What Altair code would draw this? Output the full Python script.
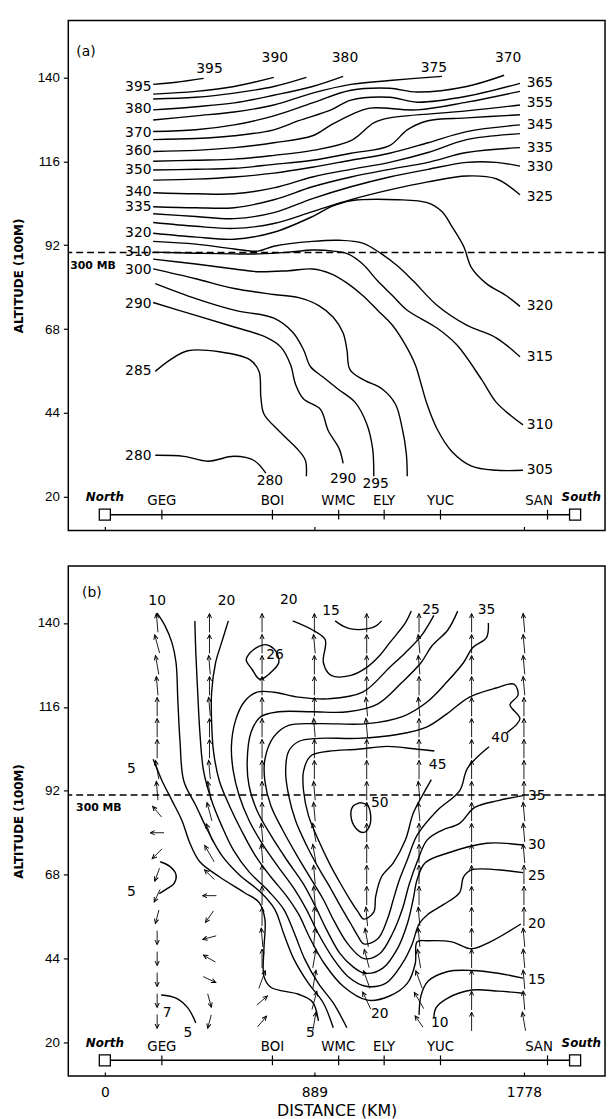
import math
import altair as alt
import pandas as pd

# ---------------- scales / layout ----------------
X_DOMAIN = [-155, 2122]
Y_DOMAIN = [10.4, 156.3]
PANEL_W, PANEL_H = 543, 516
X_TICKS = [0, 889, 1778]
Y_TICKS = [20, 44, 68, 92, 116, 140]
FONT = "DejaVu Sans"

# ---------------- stations ----------------
STATIONS = ["GEG", "BOI", "WMC", "ELY", "YUC", "SAN"]
STATION_KM = [242, 711, 992, 1185, 1424, 1878]
STATION_LABEL_KM = [242, 711, 990, 1185, 1424, 1842]
END_NAMES = ["North", "South"]
END_KM = [0, 1995]
END_LABEL_KM = [0, 2021]
STATION_LINE_ALT = 14.9
STATION_LABEL_ALT = 18.8
END_LABEL_ALT = 19.9

# 300 mb level
P300_ALT_A = 89.9
P300_ALT_B = 90.8

# ---------------- panel (a): isentropes (K) ----------------
A395 = [(205, 138.0), (302, 138.6), (419, 139.7)]
A390 = [(205, 135.2), (386, 136.0), (549, 137.4), (717, 140.0)]
A385 = [(205, 133.8), (386, 134.3), (549, 135.5), (717, 137.4), (855, 140.0)]
A380 = [(205, 130.7), (386, 131.6), (549, 132.7), (717, 134.9), (881, 137.4), (1011, 140.3)]
A375 = [(205, 127.8), (386, 129.0), (549, 130.1), (717, 132.1), (881, 135.5), (1044, 138.0), (1208, 139.1), (1430, 140.3)]
A370 = [(205, 124.5), (386, 125.0), (549, 126.4), (717, 129.0), (881, 132.7), (1044, 136.3), (1208, 136.9), (1325, 135.8), (1535, 137.4), (1694, 140.6)]
A365 = [(205, 122.2), (386, 122.5), (549, 123.3), (717, 125.0), (822, 127.6), (960, 130.7), (1044, 133.5), (1208, 134.3), (1325, 132.9), (1535, 134.6), (1761, 138.3)]
A360 = [(205, 118.8), (386, 119.1), (549, 119.9), (717, 121.3), (881, 123.3), (960, 126.4), (1044, 129.3), (1124, 131.2), (1325, 130.7), (1535, 132.9), (1761, 136.0)]
A355 = [(205, 116.0), (386, 116.3), (549, 116.6), (717, 117.7), (881, 119.1), (1044, 121.9), (1141, 127.0), (1208, 128.4), (1535, 130.4), (1761, 132.1)]
A350 = [(205, 113.5), (386, 113.7), (549, 114.0), (717, 115.1), (881, 116.3), (1044, 118.3), (1208, 120.5), (1283, 125.0), (1371, 127.6), (1535, 128.4), (1761, 129.3)]
A345 = [(205, 110.6), (386, 110.9), (549, 111.5), (717, 112.6), (881, 114.3), (1044, 116.3), (1208, 118.3), (1371, 121.3), (1535, 124.5), (1761, 126.4)]
A340 = [(205, 107.0), (386, 106.7), (549, 106.7), (717, 108.4), (881, 111.5), (1044, 113.7), (1208, 115.7), (1371, 118.5), (1535, 122.2), (1761, 123.9)]
A335 = [(205, 103.0), (386, 102.7), (549, 102.7), (717, 105.0), (881, 108.7), (1044, 111.5), (1208, 113.7), (1371, 115.7), (1535, 118.5), (1761, 119.9)]
A330 = [(205, 101.0), (386, 100.2), (549, 99.6), (717, 101.3), (881, 105.3), (1044, 108.7), (1208, 111.5), (1371, 113.7), (1535, 115.7), (1660, 115.7), (1761, 114.6)]
A325 = [(205, 98.5), (386, 97.4), (549, 96.8), (717, 98.2), (881, 101.6), (1044, 105.0), (1208, 107.8), (1371, 110.1), (1535, 111.8), (1660, 111.0), (1761, 106.4)]
A320 = [(205, 95.4), (386, 94.3), (549, 93.7), (717, 95.7), (881, 100.2), (960, 103.0), (1044, 104.7), (1241, 105.0), (1371, 104.1), (1430, 101.6), (1472, 97.4), (1522, 91.7), (1556, 85.5), (1619, 81.0), (1702, 77.6), (1761, 74.5)]
A315 = [(205, 93.1), (386, 92.3), (549, 90.9), (650, 90.3), (717, 91.7), (881, 93.1), (994, 93.4), (1094, 92.6), (1174, 89.5), (1241, 86.1), (1308, 81.8), (1409, 74.8), (1535, 69.1), (1660, 65.5), (1761, 60.1)]
A310 = [(205, 90.0), (386, 89.7), (549, 89.5), (654, 89.5), (780, 90.0), (881, 90.6), (969, 90.3), (1031, 89.5), (1094, 86.6), (1157, 81.8), (1220, 77.6), (1283, 73.4), (1409, 68.3), (1493, 63.5), (1598, 53.6), (1660, 47.1), (1723, 43.2), (1774, 40.6)]
A305 = [(205, 88.0), (386, 86.6), (549, 85.2), (650, 84.4), (780, 84.7), (881, 85.2), (960, 83.8), (1031, 81.0), (1094, 77.6), (1157, 73.4), (1220, 69.1), (1275, 63.5), (1317, 57.8), (1342, 52.2), (1367, 46.5), (1409, 39.5), (1472, 33.0), (1556, 28.8), (1660, 27.6), (1774, 27.6)]
A300 = [(205, 85.2), (386, 82.4), (549, 79.6), (717, 77.9), (822, 77.0), (906, 74.8), (969, 71.4), (1011, 66.9), (1027, 62.1), (1040, 56.4), (1094, 53.6), (1178, 50.8), (1233, 46.5), (1262, 39.5), (1279, 32.4), (1283, 25.9)]
A295 = [(214, 81.0), (386, 76.7), (549, 73.4), (717, 71.1), (797, 67.1), (843, 62.1), (872, 57.3), (927, 54.2), (990, 50.8), (1061, 47.1), (1111, 40.9), (1136, 33.8), (1141, 25.9)]
A290 = [(205, 75.6), (386, 71.9), (549, 68.6), (683, 65.7), (746, 62.9), (788, 57.8), (809, 52.2), (843, 48.0), (914, 45.1), (948, 38.9), (994, 33.8), (1011, 29.6)]
A285 = [(214, 55.9), (277, 59.2), (352, 61.8), (486, 61.5), (616, 59.2), (654, 55.9), (662, 48.5), (675, 43.7), (738, 38.9), (822, 33.3), (851, 30.4), (855, 25.9)]
A280 = [(214, 31.9), (335, 31.6), (436, 30.2), (549, 31.6), (633, 30.4), (683, 26.8)]

A_LINES = [("395", A395), ("390", A390), ("385", A385), ("380", A380), ("375", A375),
           ("370", A370), ("365", A365), ("360", A360), ("355", A355), ("350", A350),
           ("345", A345), ("340", A340), ("335", A335), ("330", A330), ("325", A325),
           ("320", A320), ("315", A315), ("310", A310), ("305", A305), ("300", A300),
           ("295", A295), ("290", A290), ("285", A285), ("280", A280)]

A_TOP_TEXT = ["395", "390", "380", "375", "370"]
A_TOP_KM = [444, 721, 1019, 1396, 1711]
A_TOP_ALT = [142.5, 145.4, 145.4, 142.8, 145.6]
A_LEFT_TEXT = ["395", "380", "370", "360", "350", "340", "335", "320", "310", "300", "290", "285", "280"]
A_LEFT_ALT = [137.2, 131.0, 124.2, 118.8, 113.5, 107.2, 102.9, 95.4, 90.0, 85.0, 75.3, 55.9, 31.6]
A_LEFT_KM = 198
A_RIGHT_TEXT = ["365", "355", "345", "335", "330", "325", "320", "315", "310", "305"]
A_RIGHT_ALT = [138.3, 132.7, 126.4, 119.9, 114.3, 105.8, 74.5, 60.1, 40.6, 27.6]
A_RIGHT_KM = 1790
A_BOTTOM_TEXT = ["280", "290", "295"]
A_BOTTOM_KM = [700, 1011, 1149]
A_BOTTOM_ALT = [24.6, 25.2, 23.6]

# ---------------- panel (b): isotachs (m/s) ----------------
B5 = [(205, 101.0), (222, 98.2), (243, 94.8), (285, 89.2), (327, 83.5), (361, 77.0), (403, 71.7), (486, 67.4), (591, 62.9), (654, 60.1), (679, 55.3), (675, 46.8), (675, 38.9), (704, 35.8), (822, 33.8), (881, 31.6), (906, 26.2)]
B5_HOOK = [(235, 71.7), (277, 70.3), (302, 68.0), (294, 65.5), (260, 63.8), (231, 62.6)]
B5_LOW = [(239, 33.6), (302, 32.7), (352, 29.9), (386, 25.6)]
B10 = [(222, 142.8), (256, 139.1), (285, 134.3), (302, 128.7), (310, 117.4), (319, 106.1), (335, 94.8), (386, 87.8), (436, 80.7), (495, 73.6), (570, 68.0), (662, 62.9), (721, 58.1), (759, 51.1), (801, 44.0), (864, 36.9), (927, 31.3), (969, 24.2)]
B10_R = [(1396, 27.1), (1405, 29.9), (1455, 32.7), (1556, 35.0), (1669, 34.7), (1774, 34.1)]
B15 = [(382, 140.6), (386, 131.5), (394, 120.2), (403, 108.9), (419, 97.6), (453, 89.2), (495, 82.1), (545, 75.1), (612, 68.8), (696, 63.2), (759, 58.1), (805, 51.1), (847, 44.0), (906, 36.9), (969, 31.3), (1027, 24.2)]
B15_TOP = [(977, 140.6), (1011, 139.1), (1044, 138.3), (1111, 138.3), (1149, 139.1), (1174, 140.6)]
B15_R = [(1333, 27.9), (1342, 33.6), (1371, 37.5), (1455, 40.3), (1556, 40.6), (1669, 39.8), (1774, 38.4)]
B20 = [(524, 140.6), (495, 134.3), (470, 128.7), (453, 120.2), (453, 111.8), (461, 103.3), (486, 94.8), (528, 87.8), (579, 80.7), (637, 73.6), (704, 67.4), (772, 61.8), (822, 56.7), (872, 49.6), (931, 42.6), (1011, 36.1), (1115, 32.1), (1208, 33.3), (1283, 36.9), (1317, 42.6), (1325, 48.8), (1371, 49.1), (1472, 48.8), (1556, 46.8), (1635, 48.8), (1765, 53.9)]
B20_TOP = [(797, 140.6), (881, 138.0), (935, 135.2), (927, 128.7), (960, 125.0), (1044, 125.0), (1111, 127.3), (1166, 130.7), (1208, 134.3), (1275, 140.0), (1300, 143.4)]
B25 = [(1396, 142.2), (1342, 136.3), (1275, 131.5), (1208, 127.3), (1094, 120.2), (948, 118.3), (822, 118.8), (717, 120.2), (646, 120.2), (591, 117.4), (553, 111.8), (537, 104.7), (545, 97.6), (570, 90.6), (612, 83.5), (671, 76.5), (738, 70.0), (805, 63.8), (855, 58.1), (906, 51.1), (969, 44.0), (1031, 38.9), (1107, 36.1), (1191, 36.9), (1262, 42.6), (1304, 48.2), (1333, 53.9), (1371, 56.7), (1438, 59.5), (1505, 62.9), (1522, 67.4), (1556, 69.4), (1774, 68.6)]
B26 = [(616, 131.5), (642, 132.9), (683, 133.8), (717, 132.6), (734, 130.7), (738, 128.7), (717, 126.7), (658, 123.9), (625, 126.7), (600, 129.5), (616, 131.5)]
B30 = [(1497, 143.4), (1455, 138.0), (1388, 133.5), (1342, 128.7), (1262, 123.1), (1157, 116.8), (1031, 114.6), (881, 114.6), (738, 114.6), (662, 113.2), (621, 108.9), (604, 100.5), (612, 93.4), (646, 86.3), (704, 79.3), (772, 72.2), (839, 65.7), (889, 59.5), (939, 52.5), (998, 45.4), (1052, 41.7), (1103, 39.8), (1178, 41.2), (1241, 46.8), (1283, 53.9), (1308, 60.9), (1325, 66.6), (1359, 71.4), (1455, 74.2), (1619, 77.0), (1774, 76.5)]
B35 = [(1627, 140.0), (1619, 135.8), (1560, 132.9), (1522, 128.7), (1451, 123.1), (1367, 117.4), (1262, 113.2), (1115, 111.2), (906, 111.2), (780, 110.7), (717, 107.5), (679, 101.0), (679, 94.8), (704, 87.8), (755, 80.7), (814, 73.6), (872, 67.1), (927, 60.9), (973, 54.7), (1031, 48.2), (1099, 44.0), (1166, 45.4), (1220, 51.1), (1262, 58.1), (1291, 65.2), (1325, 71.7), (1367, 77.9), (1430, 80.7), (1505, 82.7), (1568, 87.2), (1669, 89.2), (1774, 90.6)]
B40 = [(1705, 108.6), (1761, 112.6), (1719, 116.6), (1753, 119.4), (1736, 122.5), (1660, 121.4), (1547, 118.8), (1451, 114.0), (1367, 110.3), (1241, 108.1), (1073, 107.0), (906, 107.0), (822, 106.1), (780, 103.3), (767, 97.6), (780, 90.6), (809, 83.5), (855, 76.5), (906, 70.0), (956, 64.3), (1002, 58.7), (1044, 53.9), (1073, 50.5), (1099, 48.2), (1157, 49.6), (1199, 55.3), (1224, 60.9), (1250, 66.6), (1283, 72.2), (1325, 79.3), (1409, 86.3), (1505, 92.0), (1539, 98.5), (1630, 104.6)]
B45 = [(1398, 103.4), (1325, 103.9), (1199, 104.7), (1073, 103.9), (948, 103.3), (872, 101.9), (843, 97.6), (843, 92.0), (864, 84.9), (906, 77.9), (956, 70.8), (1002, 65.2), (1040, 60.9), (1073, 57.5), (1099, 55.3), (1141, 57.3), (1149, 61.8), (1174, 67.4), (1224, 71.4), (1275, 77.9), (1308, 85.5), (1342, 90.0), (1385, 95.2)]
B50 = [(1082, 88.6), (1115, 87.8), (1128, 84.9), (1124, 82.1), (1099, 80.1), (1065, 81.3), (1044, 84.9), (1052, 87.5), (1082, 88.6)]

B_LINES = [("5", B5), ("5h", B5_HOOK), ("5l", B5_LOW), ("10", B10), ("10r", B10_R),
           ("15", B15), ("15t", B15_TOP), ("15r", B15_R), ("20", B20), ("20t", B20_TOP),
           ("25", B25), ("26", B26), ("30", B30), ("35", B35), ("40", B40), ("45", B45), ("50", B50)]

B_CENTER_TEXT = ["10", "20", "20", "15", "25", "35", "26", "5", "45", "40", "50", "5", "20", "10", "7", "5", "5"]
B_CENTER_KM = [222, 516, 780, 960, 1384, 1619, 722, 113, 1412, 1677, 1166, 113, 1166, 1421, 264, 352, 872]
B_CENTER_ALT = [146.2, 146.2, 146.5, 143.4, 143.7, 143.7, 130.9, 98.2, 99.3, 107.0, 88.6, 62.9, 28.2, 25.6, 28.5, 22.8, 22.8]
B_RIGHT_TEXT = ["35", "30", "25", "20", "15"]
B_RIGHT_ALT = [90.6, 76.5, 67.7, 53.9, 37.8]
B_RIGHT_KM = 1795

# wind arrows (direction drawn, degrees clockwise from up)
ARROW_COLS_KM = [222, 444, 667, 889, 1111, 1333, 1556, 1778]
ARROW_LEVELS = [140, 134, 128, 122, 116, 110, 104, 98, 92, 86, 80, 74, 68, 62, 56, 50, 44, 38, 32, 26]
DIR_COL1 = [-5, -15, -10, -5, 0, 0, 0, -10, -5, -40, -90, -135, -160, -155, -165, 180, 180, 180, 180, 180]
DIR_COL2 = [0, 0, -5, 0, -5, 0, 0, -5, -10, -15, -20, -30, -45, -90, -145, -105, -60, 115, 165, -165]
DIR_COL3 = [0, 0, 0, 0, 0, 0, 0, 0, 0, 0, -5, -5, 0, 0, 0, -5, 0, 20, 50, 40]
DIR_COL4 = [0, -5, 0, 0, 0, -5, 0, 0, -5, -5, -10, -10, -5, -5, 0, 5, 10, 10, 15, 10]
DIR_COL5 = [0, 0, 0, 0, -5, -5, 0, 0, 0, 0, 0, 0, 0, 0, -5, -10, -15, -20, -25, None]
DIR_COL6 = [0, -5, -5, 0, -5, 0, 0, 0, -5, -5, 0, 0, 0, 0, -5, -5, -10, -20, -30, -35]
DIR_COL7 = [0, 0, 0, 0, 0, 0, 0, 0, 0, 0, 0, 0, 0, 0, 0, 0, 0, 0, 0, 0]
DIR_COL8 = [-5, -5, -5, -5, 0, 0, 0, 0, 0, -5, -5, -5, 0, 0, 0, -5, -5, -5, -5, -10]
ARROW_DIRS = [DIR_COL1, DIR_COL2, DIR_COL3, DIR_COL4, DIR_COL5, DIR_COL6, DIR_COL7, DIR_COL8]

# ---------------- helpers ----------------
XSCALE = alt.Scale(domain=X_DOMAIN, nice=False, zero=False)
YSCALE = alt.Scale(domain=Y_DOMAIN, nice=False, zero=False)

Y_AXIS = alt.Axis(values=Y_TICKS, title="ALTITUDE (100M)", grid=False, domain=False,
                  tickSize=5, tickWidth=1.2, tickColor="black", labelPadding=4,
                  labelFont="Liberation Sans", labelFontSize=13.5, labelColor="black",
                  titleFont=FONT, titleFontSize=12, titleFontWeight="bold", titleColor="black",
                  titlePadding=11, minExtent=32, maxExtent=32)
X_AXIS_A = alt.Axis(values=X_TICKS, title=None, labels=False, grid=False, domain=False,
                    tickSize=4, tickWidth=1.2, tickColor="black", offset=-4)
X_AXIS_B = alt.Axis(values=X_TICKS, title="DISTANCE (KM)", grid=False, domain=False, format="d",
                    tickSize=4, tickWidth=1.2, tickColor="black", offset=-4,
                    labelPadding=10, labelFont=FONT, labelFontSize=14, labelColor="black",
                    titleFont=FONT, titleFontSize=16, titleFontWeight="normal", titleColor="black",
                    titlePadding=3)


def X(axis, field="km"):
    return alt.X(f"{field}:Q", scale=XSCALE, axis=axis)


def Y(field="alt"):
    return alt.Y(f"{field}:Q", scale=YSCALE, axis=Y_AXIS)


def contour_frame(lines):
    rows = []
    for cid, pts in lines:
        for i, (k, a) in enumerate(pts):
            rows.append({"cid": cid, "i": i, "km": k, "alt": a})
    return pd.DataFrame(rows)


def text_layer(df, xaxis, align, size=14, weight="normal", style="normal", font=FONT):
    return alt.Chart(df).mark_text(align=align, baseline="middle", font=font, fontSize=size,
                                   fontWeight=weight, fontStyle=style, color="black").encode(
        x=X(xaxis), y=Y(), text="t:N")


def station_layers(xaxis):
    n = len(STATION_KM)
    line_df = pd.DataFrame({"km": [END_KM[0]], "km2": [END_KM[1]], "alt": [STATION_LINE_ALT]})
    tick_df = pd.DataFrame({"km": STATION_KM, "alt": [STATION_LINE_ALT - 1.4] * n,
                            "alt2": [STATION_LINE_ALT + 1.4] * n})
    box_df = pd.DataFrame({"km": END_KM, "alt": [STATION_LINE_ALT] * 2})
    lab_df = pd.DataFrame({"t": STATIONS, "km": STATION_LABEL_KM, "alt": [STATION_LABEL_ALT] * n})
    end_df = pd.DataFrame({"t": END_NAMES, "km": END_LABEL_KM, "alt": [END_LABEL_ALT] * 2})
    return [
        alt.Chart(line_df).mark_rule(color="black", strokeWidth=1.5).encode(
            x=X(xaxis), x2="km2:Q", y=Y()),
        alt.Chart(tick_df).mark_rule(color="black", strokeWidth=1.2).encode(
            x=X(xaxis), y=Y(), y2="alt2:Q"),
        alt.Chart(box_df).mark_point(shape="square", size=125, filled=True, fill="white",
                                     stroke="black", strokeWidth=1.3, opacity=1).encode(
            x=X(xaxis), y=Y()),
        text_layer(lab_df, xaxis, "center", size=13.5),
        text_layer(end_df, xaxis, "center", size=12, weight="bold", style="italic"),
    ]


def base_layers(lines, p300, xaxis):
    return [
        alt.Chart(contour_frame(lines)).mark_line(color="black", strokeWidth=1.4,
                                                   interpolate="catmull-rom").encode(
            x=X(xaxis), y=Y(), detail="cid:N", order="i:Q"),
        alt.Chart(pd.DataFrame({"alt": [p300]})).mark_rule(
            color="black", strokeWidth=1.3, strokeDash=[7, 4]).encode(y=Y()),
    ]


# ---------------- panel (a) ----------------
xa = X_AXIS_A
a_layers = base_layers(A_LINES, P300_ALT_A, xa)
a_layers.append(text_layer(pd.DataFrame({"t": A_TOP_TEXT, "km": A_TOP_KM, "alt": A_TOP_ALT}), xa, "center"))
a_layers.append(text_layer(pd.DataFrame({"t": A_LEFT_TEXT, "km": [A_LEFT_KM] * len(A_LEFT_TEXT),
                                         "alt": A_LEFT_ALT}), xa, "right"))
a_layers.append(text_layer(pd.DataFrame({"t": A_RIGHT_TEXT, "km": [A_RIGHT_KM] * len(A_RIGHT_TEXT),
                                         "alt": A_RIGHT_ALT}), xa, "left"))
a_layers.append(text_layer(pd.DataFrame({"t": A_BOTTOM_TEXT, "km": A_BOTTOM_KM, "alt": A_BOTTOM_ALT}), xa, "center"))
a_layers.append(text_layer(pd.DataFrame({"t": ["(a)"], "km": [-80], "alt": [147.3]}), xa, "center", size=14))
a_layers.append(text_layer(pd.DataFrame({"t": ["300 MB"], "km": [-147], "alt": [86.0]}), xa, "left",
                           size=11, weight="bold"))
a_layers += station_layers(xa)
panel_a = alt.layer(*a_layers).properties(width=PANEL_W, height=PANEL_H)

# ---------------- panel (b) ----------------
xb = X_AXIS_B
PX_PER_KM = PANEL_W / (X_DOMAIN[1] - X_DOMAIN[0])
PX_PER_ALT = PANEL_H / (Y_DOMAIN[1] - Y_DOMAIN[0])
shaft_rows, head_rows = [], []
for col_km, dirs in zip(ARROW_COLS_KM, ARROW_DIRS):
    for lev, d in zip(ARROW_LEVELS, dirs):
        if d is None:
            continue
        length = 19 if abs(d) <= 30 else 14
        r = math.radians(d)
        dx = (length / 2) * math.sin(r) / PX_PER_KM
        dy = (length / 2) * math.cos(r) / PX_PER_ALT
        shaft_rows.append({"km": col_km - dx, "alt": lev - dy, "km2": col_km + dx, "alt2": lev + dy})
        head_rows.append({"km": col_km + dx, "alt": lev + dy, "ang": d % 360})
shaft_df = pd.DataFrame(shaft_rows)
head_df = pd.DataFrame(head_rows)

b_layers = base_layers(B_LINES, P300_ALT_B, xb)
b_layers.append(alt.Chart(shaft_df).mark_rule(color="black", strokeWidth=0.9).encode(
    x=X(xb), y=Y(), x2="km2:Q", y2="alt2:Q"))
b_layers.append(alt.Chart(head_df).mark_point(shape="M-0.7,1.5L0,0L0.7,1.5", size=36, filled=False,
                                              color="black", strokeWidth=1, opacity=1).encode(
    x=X(xb), y=Y(), angle=alt.Angle("ang:Q", scale=None)))
b_layers.append(text_layer(pd.DataFrame({"t": B_CENTER_TEXT, "km": B_CENTER_KM, "alt": B_CENTER_ALT}), xb, "center"))
b_layers.append(text_layer(pd.DataFrame({"t": B_RIGHT_TEXT, "km": [B_RIGHT_KM] * len(B_RIGHT_TEXT),
                                         "alt": B_RIGHT_ALT}), xb, "left"))
b_layers.append(text_layer(pd.DataFrame({"t": ["(b)"], "km": [-55], "alt": [148.5]}), xb, "center", size=14))
b_layers.append(text_layer(pd.DataFrame({"t": ["300 MB"], "km": [-122], "alt": [87.2]}), xb, "left",
                           size=11, weight="bold"))
b_layers += station_layers(xb)
panel_b = alt.layer(*b_layers).properties(width=PANEL_W, height=PANEL_H)

chart = alt.vconcat(panel_a, panel_b, spacing=33).properties(
    padding={"left": 4, "top": 5, "right": 0, "bottom": 0},
    background="white",
).configure_view(stroke="black", strokeWidth=1.5)

chart.save("out.html", embed_options={"renderer": "svg", "actions": False})
